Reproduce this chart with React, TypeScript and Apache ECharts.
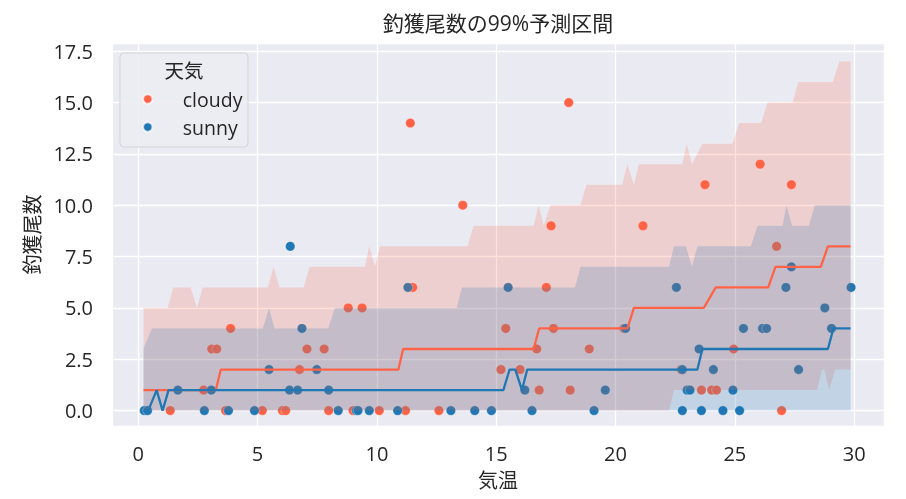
import React, { useEffect, useRef } from "react";
import * as echarts from "echarts";

// ---- data (temperature, count) ----
const cloudyPoints: [number, number][] = [
  [1.34, 0], [2.74, 1], [3.08, 3], [3.29, 3], [3.66, 0], [3.87, 4], [5.2, 0], [6.04, 0], [6.18, 0],
  [6.76, 2], [7.07, 3], [7.79, 3], [7.98, 0], [8.8, 5], [9.0, 0], [9.38, 5], [10.1, 0], [11.2, 0],
  [11.4, 14], [11.5, 6], [12.6, 0], [13.6, 10], [15.2, 2], [15.4, 4], [16.0, 2], [16.7, 3], [16.8, 1],
  [17.1, 6], [17.3, 9], [17.4, 4], [18.04, 15], [18.1, 1], [18.9, 3], [20.35, 4], [21.15, 9], [22.75, 2],
  [23.6, 1], [23.75, 11], [24.03, 1], [24.23, 1], [24.95, 3], [26.06, 12], [26.75, 8], [26.96, 0], [27.37, 11],
];
const sunnyPoints: [number, number][] = [
  [0.25, 0], [0.39, 0], [2.77, 0], [3.78, 0], [4.87, 0], [8.38, 0], [9.14, 0], [9.21, 0], [9.68, 0],
  [10.87, 0], [13.1, 0], [14.1, 0], [14.8, 0], [16.5, 0], [19.1, 0], [22.8, 0], [23.6, 0], [24.5, 0], [25.2, 0],
  [1.66, 1], [3.06, 1], [6.34, 1], [6.68, 1], [7.98, 1], [16.2, 1], [19.57, 1], [23.0, 1], [23.12, 1], [24.92, 1],
  [5.48, 2], [7.48, 2], [22.8, 2], [24.1, 2], [27.67, 2],
  [23.5, 3],
  [6.86, 4], [20.42, 4], [25.36, 4], [26.16, 4], [26.33, 4], [29.05, 4],
  [28.77, 5],
  [11.3, 6], [15.5, 6], [22.55, 6], [27.14, 6], [29.87, 6],
  [27.37, 7],
  [6.37, 8],
];

// predicted median
const cloudyMedian: [number, number][] = [
  [0.22, 1], [3.25, 1], [3.46, 2], [10.9, 2], [11.1, 3], [16.57, 3], [16.8, 4], [20.5, 4], [20.77, 5],
  [23.7, 5], [24.2, 6], [26.4, 6], [26.7, 7], [28.6, 7], [28.9, 8], [29.85, 8],
];
const sunnyMedian: [number, number][] = [
  [0.22, 0], [0.42, 0], [0.77, 1], [1.02, 0], [1.27, 1], [15.3, 1], [15.56, 2], [15.8, 2], [16.08, 1],
  [16.3, 2], [23.43, 2], [23.64, 3], [28.9, 3], [29.13, 4], [29.85, 4],
];

// 99% prediction interval bounds
const cloudyUpper: [number, number][] = [
  [0.22, 5], [1.23, 5], [1.47, 6], [2.2, 6], [2.46, 5], [2.7, 6], [5.43, 6], [5.67, 7], [5.92, 6],
  [6.93, 6], [7.18, 7], [9.5, 7], [9.68, 8], [9.92, 7], [10.13, 8], [13.8, 8], [14.05, 9], [16.57, 9],
  [16.78, 10], [16.99, 9], [17.27, 10], [18.53, 10], [18.78, 11], [20.28, 11], [20.49, 12], [20.77, 11],
  [20.98, 12], [22.8, 12], [22.98, 13], [23.2, 12], [23.64, 13], [24.9, 13], [25.18, 14], [26.1, 14],
  [26.37, 15], [27.42, 15], [27.66, 16], [29.1, 16], [29.38, 17], [29.85, 17],
];
const cloudyLower: [number, number][] = [
  [0.22, 0], [22.24, 0], [22.45, 1], [28.45, 1], [28.65, 2], [28.75, 2], [28.95, 1], [29.2, 2], [29.85, 2],
];
const sunnyUpper: [number, number][] = [
  [0.22, 3], [0.57, 4], [5.22, 4], [5.48, 5], [5.71, 4], [7.96, 4], [8.24, 5], [13.35, 5], [13.56, 6],
  [18.3, 6], [18.53, 7], [22.24, 7], [22.45, 8], [22.95, 8], [23.2, 7], [23.43, 8], [25.67, 8], [25.95, 9],
  [27.0, 9], [27.16, 10], [27.4, 9], [28.1, 9], [28.35, 10], [29.85, 10],
];
const sunnyLower: [number, number][] = [
  [0.22, 0], [29.85, 0],
];

const xTicksStep = 5;
const yTicksStep = 2.5;

const CLOUDY = "#ff6347";
const SUNNY = "#1f77b4";
const TEXT = "#262626";
const FONT = '"Open Sans", "Noto Sans CJK JP", sans-serif';
const FS = 20;

function bandSeries(name: string, upper: [number, number][], lower: [number, number][], fill: string, z: number) {
  return {
    name,
    type: "custom",
    z,
    silent: true,
    data: [[upper[0][0], upper[0][1]]],
    renderItem: (params: any, api: any) => {
      if (params.dataIndex !== 0) return null;
      const pts = [
        ...upper.map((p) => api.coord(p)),
        ...lower.slice().reverse().map((p) => api.coord(p)),
      ];
      return { type: "polygon", shape: { points: pts }, style: { fill } };
    },
  };
}

export default function App() {
  const ref = useRef<HTMLDivElement>(null);
  useEffect(() => {
    if (!ref.current) return;
    const chart = echarts.init(ref.current, undefined, { renderer: "svg" });
    const option: any = {
      animation: false,
      textStyle: { fontFamily: FONT },
      grid: {
        left: 112, right: 22, top: 43, bottom: 73,
        show: true, backgroundColor: "#eaeaf2", borderWidth: 0,
      },
      xAxis: {
        type: "value",
        min: -1.1, max: 31.25,
        minInterval: xTicksStep, maxInterval: xTicksStep,
        name: "気温", nameLocation: "middle", nameGap: 44,
        nameTextStyle: { fontSize: FS, color: TEXT, fontFamily: FONT },
        axisLine: { show: false }, axisTick: { show: false },
        axisLabel: { fontSize: FS, color: TEXT, margin: 17, showMinLabel: false, showMaxLabel: false, fontFamily: FONT },
        splitLine: { show: true, lineStyle: { color: "#ffffff", width: 1.3 } },
      },
      yAxis: {
        type: "value",
        min: -0.75, max: 17.9,
        minInterval: yTicksStep, maxInterval: yTicksStep,
        name: "釣獲尾数", nameLocation: "middle", nameGap: 70, nameRotate: 90,
        nameTextStyle: { fontSize: FS, color: TEXT, fontFamily: FONT },
        axisLine: { show: false }, axisTick: { show: false },
        axisLabel: {
          fontSize: FS, color: TEXT, margin: 19, showMinLabel: false, showMaxLabel: false, fontFamily: FONT,
          formatter: (v: number) => v.toFixed(1),
        },
        splitLine: { show: true, lineStyle: { color: "#ffffff", width: 1.3 } },
      },
      legend: {
        data: [{ name: "cloudy", icon: "circle" }, { name: "sunny", icon: "circle" }],
        orient: "vertical",
        left: 142, top: 89, padding: 0, itemGap: 8,
        itemWidth: 60, itemHeight: 9.5, z: 8,
        selectedMode: false,
        textStyle: { fontSize: 19.5, color: TEXT, fontFamily: FONT, lineHeight: 20 },
      },
      graphic: [
        {
          type: "text", x: 498, y: 23, z: 10,
          style: { text: "釣獲尾数の99%予測区間", fill: TEXT, fontSize: 21, fontFamily: FONT, align: "center", verticalAlign: "middle" },
        },
        {
          type: "rect", z: 6, shape: { x: 120, y: 53, width: 128, height: 94, r: 4 },
          style: { fill: "rgba(236,236,243,0.9)", stroke: "#d3d3d8", lineWidth: 1 },
        },
        {
          type: "text", x: 184, y: 70, z: 10,
          style: { text: "天気", fill: TEXT, fontSize: 19.5, fontFamily: FONT, align: "center", verticalAlign: "middle" },
        },
      ],
      series: [
        {
          name: "cloudy", type: "scatter", data: cloudyPoints, symbolSize: 9.5, z: 1,
          itemStyle: { color: CLOUDY, borderColor: "rgba(255,255,255,0.7)", borderWidth: 0.5, opacity: 1 },
        },
        {
          name: "sunny", type: "scatter", data: sunnyPoints, symbolSize: 9.5, z: 1,
          itemStyle: { color: SUNNY, borderColor: "rgba(255,255,255,0.7)", borderWidth: 0.5, opacity: 1 },
        },
        bandSeries("cloudy 99%", cloudyUpper, cloudyLower, "rgba(255,99,71,0.2)", 2),
        bandSeries("sunny 99%", sunnyUpper, sunnyLower, "rgba(31,119,180,0.2)", 2),
        {
          name: "cloudy median", type: "line", data: cloudyMedian, showSymbol: false, z: 3,
          lineStyle: { color: CLOUDY, width: 2.3 }, itemStyle: { color: CLOUDY }, silent: true,
        },
        {
          name: "sunny median", type: "line", data: sunnyMedian, showSymbol: false, z: 3,
          lineStyle: { color: SUNNY, width: 2.3 }, itemStyle: { color: SUNNY }, silent: true,
        },
      ],
    };
    chart.setOption(option);
    return () => chart.dispose();
  }, []);
  return <div ref={ref} style={{ position: "fixed", left: 0, top: 0, width: 906, height: 499 }} />;
}
